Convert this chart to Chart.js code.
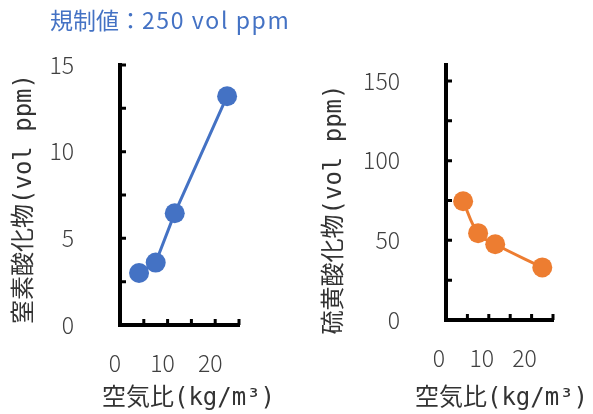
<!DOCTYPE html>
<html>
<head>
<meta charset="utf-8">
<script src="https://cdn.jsdelivr.net/npm/chart.js@4/dist/chart.umd.min.js"></script>
<style>
  body { margin: 0; background: #fff; }
  #wrap { position: relative; width: 593px; height: 414px; overflow: hidden; }
  #left { position: absolute; left: 0; top: 0; }
  #right { position: absolute; left: 296px; top: 0; }
  #headline {
    position: absolute; left: 50px; top: 6px;
    font: 23px 'Noto Sans CJK JP', sans-serif; line-height: 1.2;
    color: #4472C4; white-space: nowrap;
  }
  #headline span { letter-spacing: 1.6px; }
</style>
</head>
<body>
<div id="wrap">
  <canvas id="left" width="296" height="414"></canvas>
  <canvas id="right" width="297" height="414"></canvas>
  <div id="headline">規制値：<span>250 vol ppm</span></div>
</div>
<script>
'use strict';

// 空気比 (kg/m3)
const airRatio = [4, 7.5, 11.5, 22.5];
// 窒素酸化物 (vol ppm)
const noxValues = [3.0, 3.6, 6.45, 13.2];
// 硫黄酸化物 (vol ppm)
const soxValues = [74.5, 54.5, 47.5, 33];

const xTitle = '空気比(kg/m³)';
const noxTitle = '窒素酸化物(vol ppm)';
const soxTitle = '硫黄酸化物(vol ppm)';

const titleFont = "'DejaVu Sans Mono', 'Noto Sans CJK JP', sans-serif";
const tickFont = "'Noto Sans CJK JP', sans-serif";

// kurze Teilstriche nach innen + Achsentitel
const axisExtras = {
  id: 'axisExtras',
  beforeDatasetsDraw(chart, args, opts) {
    const ctx = chart.ctx;
    const { x, y } = chart.scales;
    ctx.save();
    ctx.strokeStyle = '#000';
    ctx.lineWidth = 3;
    ctx.beginPath();
    y.ticks.forEach(t => {
      if (t.value === y.min) return;
      const py = y.getPixelForValue(t.value);
      ctx.moveTo(y.right, py);
      ctx.lineTo(y.right + 6, py);
    });
    x.ticks.forEach(t => {
      if (t.value === x.min) return;
      const px = x.getPixelForValue(t.value);
      ctx.moveTo(px, x.top);
      ctx.lineTo(px, x.top - 6);
    });
    ctx.stroke();

    // Titel selbst zeichnen (ohne maxWidth, sonst gestaucht)
    ctx.fillStyle = '#333';
    ctx.font = `24px ${titleFont}`;
    ctx.textAlign = 'center';
    ctx.textBaseline = 'middle';
    ctx.fillText(opts.xText, (x.left + x.right) / 2 + opts.xDx, opts.xY);

    ctx.translate(opts.yX, (y.top + y.bottom) / 2 + opts.yDy);
    ctx.rotate(-Math.PI / 2);
    ctx.fillText(opts.yText, 0, 0);
    ctx.restore();
  }
};

function makeChart(id, values, color, yTitle, yOpts, layout) {
  const ctx = document.getElementById(id).getContext('2d');
  return new Chart(ctx, {
    type: 'scatter',
    data: {
      datasets: [{
        data: airRatio.map((v, i) => ({ x: v, y: values[i] })),
        showLine: true,
        borderColor: color,
        backgroundColor: color,
        borderWidth: 3,
        pointRadius: 10,
        pointBorderWidth: 0,
        tension: layout.tension,
        clip: false
      }]
    },
    options: {
      responsive: false,
      animation: false,
      layout: { padding: { top: 65, right: layout.right, bottom: 0, left: 0 } },
      plugins: {
        legend: { display: false },
        tooltip: { enabled: false },
        axisExtras: {
          xText: xTitle, xDx: layout.xDx, xY: 399,
          yText: yTitle, yX: layout.yX, yDy: layout.yDy
        }
      },
      scales: {
        x: {
          type: 'linear',
          min: 0,
          max: 25,
          grid: { display: false },
          border: { display: true, color: '#000', width: 4 },
          ticks: {
            stepSize: 5,
            padding: 16,
            maxRotation: 0,
            minRotation: 0,
            autoSkip: false,
            labelOffset: layout.labelOffset,
            color: '#404040',
            font: { family: tickFont, size: 23, weight: 300 },
            callback: v => (v % 10 === 0 ? v : '')
          },
          afterFit: s => { s.height = layout.xHeight; }
        },
        y: {
          min: 0,
          max: yOpts.max,
          grid: { display: false },
          border: { display: true, color: '#000', width: 4 },
          ticks: {
            stepSize: yOpts.step,
            includeBounds: false,
            padding: 38,
            color: '#404040',
            font: { family: tickFont, size: 23, weight: 300 },
            callback: v => (v % yOpts.label === 0 ? v : '')
          },
          afterFit: s => { s.width = layout.yWidth; }
        }
      }
    },
    plugins: [axisExtras]
  });
}

makeChart('left', noxValues, '#4472C4', noxTitle,
  { max: 15, step: 2.5, label: 5 },
  { right: 57, yWidth: 120, xHeight: 89, labelOffset: -5, tension: 0, xDx: 9, yX: 25, yDy: 4 });

makeChart('right', soxValues, '#ED7D31', soxTitle,
  { max: 160, step: 25, label: 50 },
  { right: 40, yWidth: 150, xHeight: 94, labelOffset: -7, tension: 0.4, xDx: 2, yX: 39, yDy: 17 });
</script>
</body>
</html>
